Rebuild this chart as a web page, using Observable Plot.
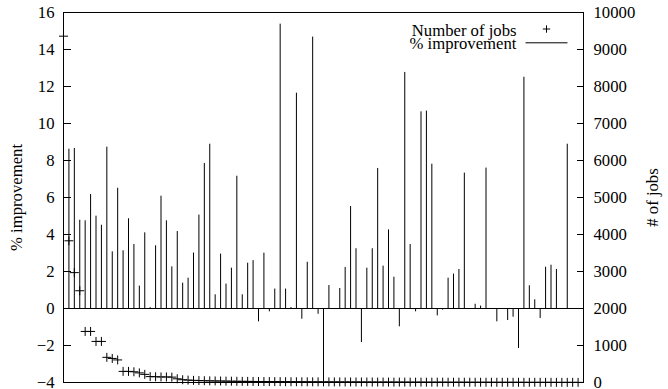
<!DOCTYPE html>
<html>
<head>
<meta charset="utf-8">
<script src="https://cdn.jsdelivr.net/npm/d3@7"></script>
<script src="https://cdn.jsdelivr.net/npm/@observablehq/plot@0.6"></script>
<style>
  html, body { margin: 0; padding: 0; background: #fff; }
  svg { display: block; }
  svg text { font-family: "Liberation Serif", "Times New Roman", serif !important; }
</style>
</head>
<body>
<div id="chart"></div>
<script>
// Per-run % improvement (left axis), drawn as impulses from zero
const improvement = [
  0, 8.61, 8.65, 4.77, 4.74, 6.16, 4.99, 4.50, 8.72, 3.06,
  6.50, 3.12, 4.85, 3.46, 1.21, 4.09, 0.05, 3.39, 6.07, 4.74,
  2.25, 4.16, 1.37, 1.64, 3.00, 5.05, 7.84, 8.88, 0.74, 2.94,
  1.32, 2.18, 7.15, 0.74, 2.45, 2.59, -0.72, 2.99, -0.18, 1.05,
  15.37, 1.05, 0.05, 11.64, -0.58, 2.50, 14.67, -0.31, -4.00, 1.24,
  -0.05, 1.08, 2.22, 5.51, 3.23, -1.84, 2.18, 3.23, 7.57, 2.29,
  4.25, 1.69, -0.99, 12.76, 3.46, -0.18, 10.63, 10.67, 7.80, -0.40,
  -0.09, 1.64, 1.86, 2.11, 7.32, 0, 0.23, 0.13, 7.59, 0,
  -0.72, 0, -0.65, -0.47, -2.16, 12.50, 1.23, 0.47, -0.54, 2.23,
  2.34, 2.11, 0, 8.88, 0, 0
];

// Number of jobs per run (right axis), sorted descending
const jobs = [
  9360, 3830, 2970, 2480, 1380, 1380, 1110, 1110, 680, 650,
  610, 300, 300, 290, 260, 220, 160, 155, 150, 150,
  145, 100, 75, 65, 58, 52, 48, 45, 42, 40,
  37, 35, 33, 31, 30, 28, 27, 26, 25, 24,
  23, 22, 21, 20, 20, 19, 18, 18, 17, 17,
  16, 16, 15, 15, 14, 14, 13, 13, 12, 12,
  12, 11, 11, 11, 10, 10, 10, 9, 9, 9,
  9, 8, 8, 8, 8, 7, 7, 7, 7, 7,
  6, 6, 6, 6, 6, 5, 5, 5, 5, 5,
  5, 4, 4, 4, 4, 4
];

const leftTicks = [-4, -2, 0, 2, 4, 6, 8, 10, 12, 14, 16];
const rightTicks = [0, 1000, 2000, 3000, 4000, 5000, 6000, 7000, 8000, 9000, 10000];
const seriesNames = ["Number of jobs", "% improvement"];
const leftTitle = "% improvement";
const rightTitle = "# of jobs";

const serif = '"Liberation Serif", "Times New Roman", serif';
const fontSize = 16.7;

// The job counts share the left scale: 0..10000 jobs spans -4..16 %
const jobsToY = (j) => j / 500 - 4;
const yToJobs = (v) => Math.round((v + 4) * 500);
const fmtMinus = (v) => (v < 0 ? "\u2212" + (-v) : String(v));

const impulseData = improvement.map((v, i) => ({i, v}));
const jobData = jobs.map((j, i) => ({i, j}));

// Horizontal stroke used as the line sample in the key
const keyLine = {
  draw(context) {
    context.moveTo(-21, 0);
    context.lineTo(21, 0);
  }
};

const textStyle = {fontFamily: serif, fontSize, fill: "black"};

const chart = Plot.plot({
  width: 668,
  height: 389,
  marginLeft: 63,
  marginRight: 85,
  marginTop: 12,
  marginBottom: 7,
  style: {
    fontFamily: serif,
    fontSize: fontSize + "px",
    color: "black",
    background: "white"
  },
  x: {domain: [0, 96], axis: null},
  y: {domain: [-4, 16]},
  marks: [
    Plot.ruleY([0], {stroke: "black", strokeWidth: 1}),
    Plot.ruleX(impulseData, {x: "i", y1: 0, y2: "v", stroke: "black", strokeWidth: 1}),
    Plot.dot(jobData, {
      x: "i",
      y: (d) => jobsToY(d.j),
      symbol: "plus",
      r: 3.0,
      stroke: "black",
      strokeWidth: 1
    }),
    Plot.axisY({
      anchor: "left",
      ticks: leftTicks,
      tickFormat: fmtMinus,
      tickSize: -8,
      tickPadding: 17,
      label: null,
      ...textStyle
    }),
    Plot.axisY({
      anchor: "right",
      ticks: rightTicks.map(jobsToY),
      tickFormat: (v) => String(yToJobs(v)),
      tickSize: -7,
      tickPadding: 17,
      label: null,
      ...textStyle
    }),
    Plot.frame({stroke: "black", strokeWidth: 1}),
    // axis titles
    Plot.text([leftTitle], {
      text: (d) => d, frameAnchor: "left", rotate: -90,
      textAnchor: "middle", lineAnchor: "middle", dx: -47, ...textStyle
    }),
    Plot.text([rightTitle], {
      text: (d) => d, frameAnchor: "right", rotate: -90,
      textAnchor: "middle", lineAnchor: "middle", dx: 69, ...textStyle
    }),
    // key
    Plot.text([seriesNames[0]], {
      text: (d) => d, frameAnchor: "top-right",
      textAnchor: "end", lineAnchor: "middle", dx: -67, dy: 18, ...textStyle
    }),
    Plot.text([seriesNames[1]], {
      text: (d) => d, frameAnchor: "top-right",
      textAnchor: "end", lineAnchor: "middle", dx: -67, dy: 31, ...textStyle
    }),
    Plot.dot([seriesNames[0]], {
      frameAnchor: "top-right", symbol: "plus", r: 2.5,
      stroke: "black", strokeWidth: 1, dx: -37, dy: 16.5
    }),
    Plot.dot([seriesNames[1]], {
      frameAnchor: "top-right", symbol: keyLine, r: 4,
      fill: "none", stroke: "black", strokeWidth: 1, dx: -37, dy: 30.3
    })
  ]
});

document.getElementById("chart").appendChild(chart);
</script>
</body>
</html>
